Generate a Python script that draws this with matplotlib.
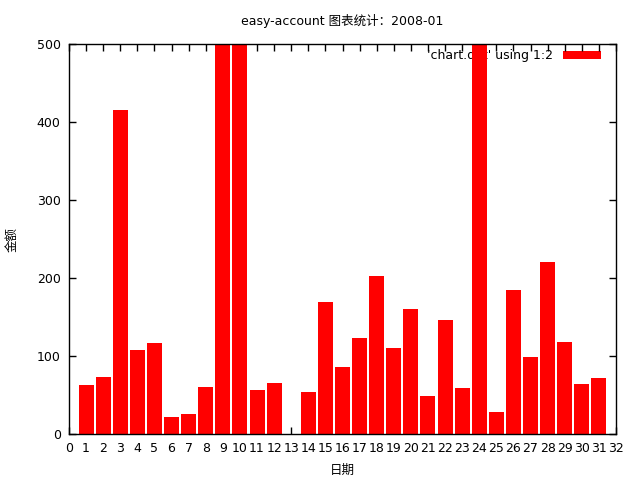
import matplotlib
matplotlib.use("Agg")
import matplotlib.pyplot as plt

plt.rcParams['font.family'] = ['DejaVu Sans', 'Noto Sans CJK SC']

# daily amounts, 2008-01 (days 9, 10 and 24 go past the 500 top)
days = list(range(1, 32))
amounts = [63, 73, 415, 108, 117, 22, 26, 60, 560, 540,
           56, 65, 0, 54, 169, 86, 123, 203, 110, 160,
           49, 146, 59, 530, 28, 185, 99, 220, 118, 64, 72]

fig = plt.figure(figsize=(6.4, 4.8), dpi=100)
ax = fig.add_axes([69 / 640, 46 / 480, 547 / 640, 390 / 480])

ax.bar(days, amounts, width=0.88, color='#ff0000', linewidth=0,
       zorder=2, label="'chart.dat' using 1:2")

ax.set_xlim(0, 32)
ax.set_ylim(0, 500)
ax.set_xticks(range(0, 33))
ax.set_yticks(range(0, 501, 100))
ax.tick_params(direction='in', length=5, width=1, top=True, right=True,
               labelsize=9, pad=6)
for s in ax.spines.values():
    s.set_linewidth(1)

ax.set_title('easy-account 图表统计：2008-01', fontsize=9, pad=14)
ax.set_xlabel('日期', fontsize=9, labelpad=6)
ax.set_ylabel('金额', fontsize=9)
ax.yaxis.set_label_coords(-0.093, 0.5)

leg = ax.legend(loc='upper right', bbox_to_anchor=(1 - 8 / 547, 1 + 2 / 390),
                frameon=False, markerfirst=False,
                handlelength=3, handleheight=0.55, handletextpad=0.8,
                borderaxespad=0.2, fontsize=9)
leg.set_zorder(1)

plt.savefig('out.png', dpi=100)
